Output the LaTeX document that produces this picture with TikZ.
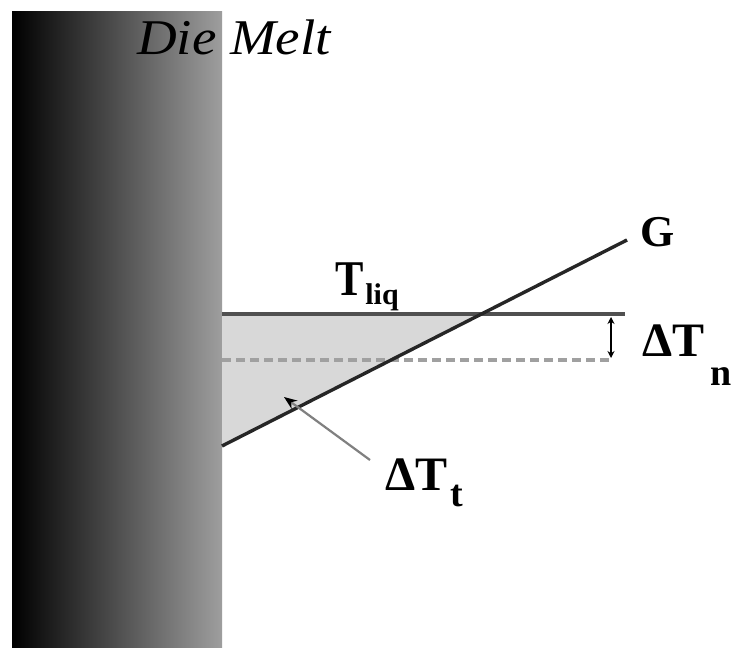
\documentclass[tikz,border=0pt]{standalone}
\usepackage{fontspec}
\setmainfont{Liberation Serif}
\usetikzlibrary{arrows.meta,calc,intersections}
\definecolor{wallend}{RGB}{158,158,158}
\definecolor{fillgray}{RGB}{216,216,216}
\definecolor{liqline}{RGB}{80,80,80}
\definecolor{dashgray}{RGB}{160,160,160}
\tikzset{
  lbl/.style={inner sep=0pt, outer sep=0pt, anchor=base west, font=\bfseries},
  gline/.style={line width=3.4pt, black!85},
  liq/.style={line width=3.6pt, liqline},
  under/.style={line width=3.6pt, dashgray, dash pattern=on 9pt off 5pt},
  pointer/.style={line width=2.2pt, gray, -{Stealth[length=13pt,width=10pt,black]}},
  gap/.style={line width=2.6pt, black, {Stealth[length=7pt,width=7pt]}-{Stealth[length=7pt,width=7pt]}}
}
\begin{document}
\begin{tikzpicture}[x=1pt,y=-1pt]
\useasboundingbox (0,0) rectangle (732,655);
\fill[white] (0,0) rectangle (732,655);
% die wall
\shade[left color=black, right color=wallend] (12,12) rectangle (222,647);
% coordinates
\coordinate (wallTop) at (222,314);
\coordinate (liqEnd) at (625,314);
\coordinate (dashEnd) at (610,360);
\coordinate (dashStart) at (222,360);
\coordinate (gStart) at (222,446);
\coordinate (gEnd) at (627,240);
\path[name path=gp] (gStart) -- (gEnd);
\path[name path=lp] (wallTop) -- (liqEnd);
\path[name intersections={of=gp and lp, by=cross}];
% undercooled region
\fill[fillgray] (wallTop) -- (cross) -- (gStart) -- cycle;
\draw[under] (dashStart) -- (dashEnd);
\draw[liq] (wallTop) -- (liqEnd);
\draw[gline] (gStart) -- (gEnd);
% small gap arrow
\coordinate (gapTop) at (611,317);
\coordinate (gapBot) at (611,358);
\draw[gap] (gapTop) -- (gapBot);
% labels
\node[lbl, font=\itshape\fontsize{50}{50}\selectfont] (melt) at (137,55) {\scalebox{1.1}[1]{Die Melt}};
\node[lbl] (tliq) at (335,296) {\scalebox{0.85}[1]{\fontsize{50}{50}\selectfont T}\kern2pt\raisebox{-9pt}{\fontsize{30}{30}\selectfont liq}};
\node[lbl] (glab) at (640,247) {\fontsize{44}{44}\selectfont G};
\node[lbl] (dtn) at (642,357) {\fontsize{48}{48}\selectfont ΔT\kern6pt\raisebox{-29pt}{\fontsize{38}{38}\selectfont n}};
\node[lbl] (dtt) at (385,490) {\fontsize{48}{48}\selectfont ΔT\kern3pt\raisebox{-17pt}{\fontsize{38}{38}\selectfont t}};
% pointer
\coordinate (ptrStart) at (370,460);
\coordinate (ptrEnd) at (284,397);
\draw[pointer] (ptrStart) -- (ptrEnd);
\end{tikzpicture}
\end{document}
